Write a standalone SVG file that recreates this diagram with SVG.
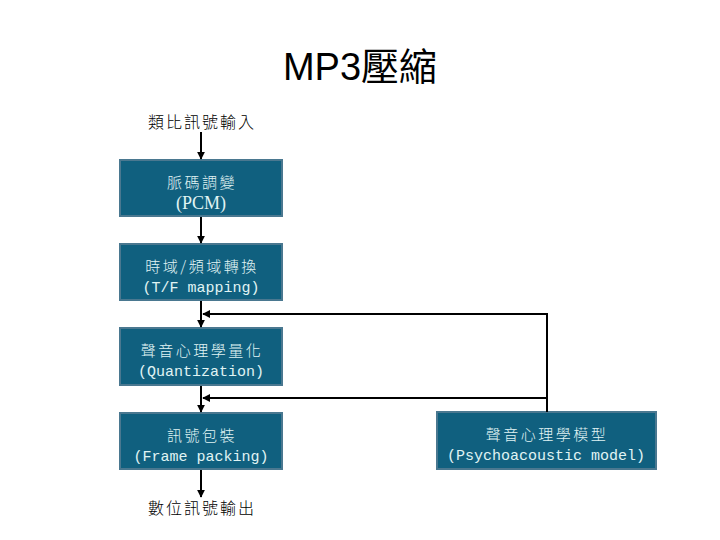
<svg xmlns="http://www.w3.org/2000/svg" width="720" height="540" viewBox="0 0 720 540">
<style>
.box{fill:#10607f;stroke:#4a7890;stroke-width:2}
.zh{font-family:"Noto Sans CJK TC","Noto Sans CJK SC",sans-serif;font-size:15px;font-weight:300;fill:#e0f4f4;letter-spacing:2.5px}
.en{font-family:"Liberation Mono",monospace;font-size:15px;fill:#e0f4f4}
.ser{font-family:"Liberation Serif",serif;font-size:18px;fill:#e0f4f4}
.lbl{font-family:"Noto Sans CJK TC","Noto Sans CJK SC",sans-serif;font-size:16px;font-weight:300;fill:#000;letter-spacing:2px}
.ln{stroke:#000;stroke-width:2;fill:none}
</style>
<defs>
<marker id="ah" viewBox="0 0 10 10" refX="9" refY="5" markerWidth="4" markerHeight="4" orient="auto" markerUnits="strokeWidth">
<path d="M0,0 L10,5 L0,10 z" fill="#000"/>
</marker>
</defs>
<rect width="720" height="540" fill="#fff"/>
<text x="360" y="80" text-anchor="middle" font-family="'Liberation Sans','Noto Sans CJK TC',sans-serif" font-size="38">MP3壓縮</text>
<g id="input"><text class="lbl" x="202" y="128" text-anchor="middle">類比訊號輸入</text></g>
<g id="pcm"><rect class="box" x="120" y="160" width="162" height="56"/>
<text class="zh" x="202" y="188" text-anchor="middle">脈碼調變</text>
<text class="ser" x="201" y="209" text-anchor="middle">(PCM)</text></g>
<g id="tf"><rect class="box" x="120" y="244" width="162" height="56"/>
<text class="zh" x="202" y="272" text-anchor="middle">時域/頻域轉換</text>
<text class="en" x="201" y="292" text-anchor="middle">(T/F mapping)</text></g>
<g id="quant"><rect class="box" x="120" y="328" width="162" height="57"/>
<text class="zh" x="202" y="356" text-anchor="middle">聲音心理學量化</text>
<text class="en" x="201" y="376" text-anchor="middle">(Quantization)</text></g>
<g id="frame"><rect class="box" x="120" y="413" width="162" height="56"/>
<text class="zh" x="202" y="441" text-anchor="middle">訊號包裝</text>
<text class="en" x="201" y="461" text-anchor="middle">(Frame packing)</text></g>
<g id="psy"><rect class="box" x="437" y="412" width="219" height="57"/>
<text class="zh" x="547" y="440" text-anchor="middle">聲音心理學模型</text>
<text class="en" x="546" y="460" text-anchor="middle">(Psychoacoustic model)</text></g>
<g id="output"><text class="lbl" x="202" y="514" text-anchor="middle">數位訊號輸出</text></g>
<g id="connectors">
<line class="ln" x1="201" y1="132" x2="201" y2="159" marker-end="url(#ah)"/>
<line class="ln" x1="201" y1="217" x2="201" y2="243" marker-end="url(#ah)"/>
<line class="ln" x1="201" y1="301" x2="201" y2="327" marker-end="url(#ah)"/>
<line class="ln" x1="201" y1="386" x2="201" y2="412" marker-end="url(#ah)"/>
<line class="ln" x1="201" y1="470" x2="201" y2="497" marker-end="url(#ah)"/>
<polyline class="ln" points="547,412 547,314 203,314" marker-end="url(#ah)"/>
<line class="ln" x1="547" y1="398" x2="203" y2="398" marker-end="url(#ah)"/>
</g>
</svg>
